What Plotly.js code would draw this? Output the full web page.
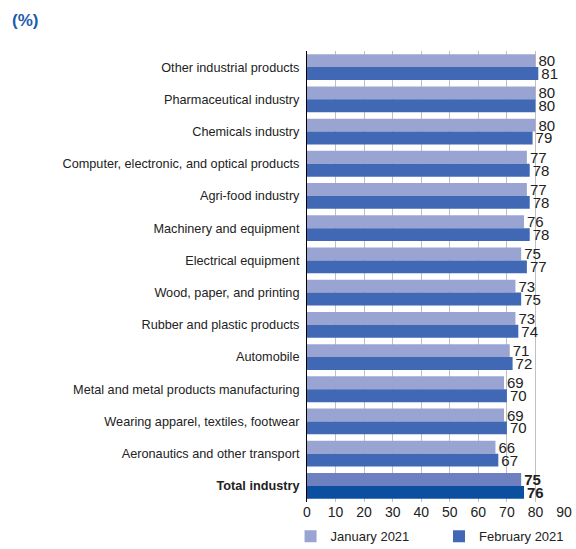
<!DOCTYPE html>
<html><head><meta charset="utf-8">
<script src="https://cdn.plot.ly/plotly-3.0.1.min.js"></script>
<style>body{margin:0;padding:0;background:#fff}#chart{width:576px;height:549px}</style>
</head><body><div id="chart"></div>
<script>
const categories = ["Other industrial products","Pharmaceutical industry","Chemicals industry","Computer, electronic, and optical products","Agri-food industry","Machinery and equipment","Electrical equipment","Wood, paper, and printing","Rubber and plastic products","Automobile","Metal and metal products manufacturing","Wearing apparel, textiles, footwear","Aeronautics and other transport","Total industry"];
const jan2021 = [80,80,80,77,77,76,75,73,73,71,69,69,66,75];
const feb2021 = [81,80,79,78,78,78,77,75,74,72,70,70,67,76];
const seriesNames = ["January 2021","February 2021"];
const xTicks = [0,10,20,30,40,50,60,70,80,90];

const isTotal = categories.map(c => c === "Total industry");
const janColors = isTotal.map(t => t ? "#6e80c0" : "#9aa4d3");
const febColors = isTotal.map(t => t ? "#0c4fa0" : "#4068b4");
const fmt = (v,i) => isTotal[i] ? "<b>"+v+"</b>" : String(v);
const tf = {family:"Liberation Sans, Arial", size:15, color:"#222"};

const traces = [
  {type:"bar", orientation:"h", name:seriesNames[0], y:categories, x:jan2021, legend:"legend",
   marker:{color:janColors}, text:jan2021.map(fmt), textposition:"outside", constraintext:"none",
   textfont:tf, outsidetextfont:tf, cliponaxis:false, hoverinfo:"skip"},
  {type:"bar", orientation:"h", name:seriesNames[1], y:categories, x:feb2021, legend:"legend2",
   marker:{color:febColors}, text:feb2021.map(fmt), textposition:"outside", constraintext:"none",
   textfont:tf, outsidetextfont:tf, cliponaxis:false, hoverinfo:"skip"}
];

const legStyle = (x) => ({orientation:"h", x:x, xref:"paper", xanchor:"left", y:-0.043, yanchor:"top",
          font:{family:"Liberation Sans, Arial", size:13, color:"#222"}, bgcolor:"rgba(0,0,0,0)"});
const layout = {
  width:576, height:549,
  margin:{l:307, r:12, t:51, b:47, autoexpand:false},
  paper_bgcolor:"#fff", plot_bgcolor:"#fff",
  barmode:"group", bargap:0.2, bargroupgap:0,
  font:{family:"Liberation Sans, Arial", color:"#222"},
  showlegend:true,
  legend:legStyle(-0.064),
  legend2:legStyle((455-307-16)/257),
  title:{text:"<b>(%)</b>", x:12/576, xanchor:"left", y:1-20/549, yanchor:"middle", font:{size:17, color:"#1b5dab"}},
  xaxis:{range:[0,90], tickvals:xTicks, showgrid:true, gridcolor:"#c0c0c0", gridwidth:1,
         zeroline:false, showline:false, ticks:"", tickfont:{size:14, color:"#222"}, fixedrange:true},
  yaxis:{autorange:"reversed", tickvals:categories,
         ticktext:categories.map((c,i)=> isTotal[i] ? "<b>"+c+"</b>" : c),
         showline:true, linecolor:"#000", linewidth:1, ticks:"", ticklabelstandoff:4,
         tickfont:{size:12.7, color:"#222"}, showgrid:false, zeroline:false}
};
Plotly.newPlot("chart", traces, layout, {displayModeBar:false, staticPlot:true});
</script></body></html>
